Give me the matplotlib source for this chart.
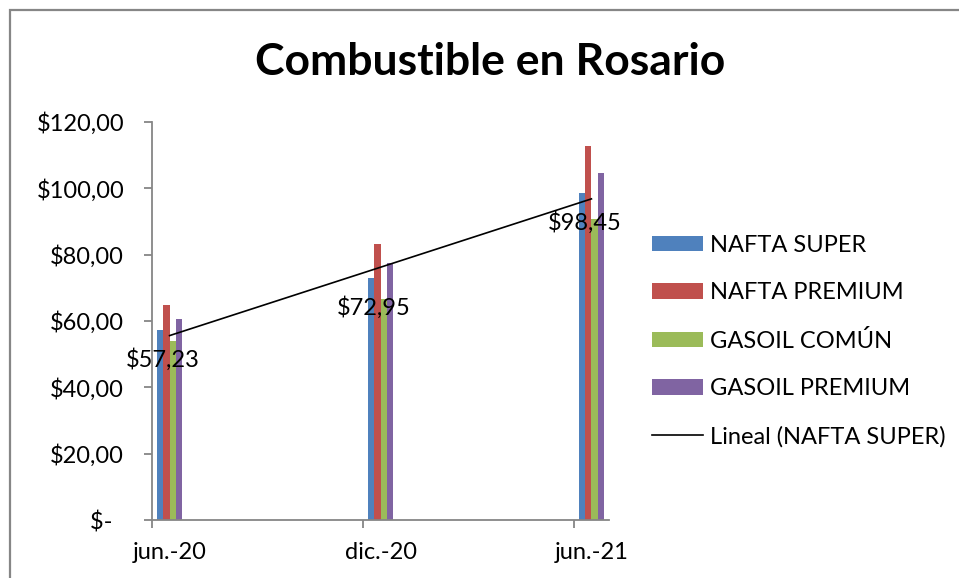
import numpy as np
import matplotlib
matplotlib.use("Agg")
import matplotlib.pyplot as plt
from matplotlib.patches import Rectangle, Patch
from matplotlib.lines import Line2D

# data
periods = ["jun.-20", "dic.-20", "jun.-21"]
months = [0, 6, 12]  # date axis, in months from jun.-20
series_names = ["NAFTA SUPER", "NAFTA PREMIUM", "GASOIL COMÚN", "GASOIL PREMIUM"]
nafta_super = [57.23, 72.95, 98.45]
nafta_premium = [64.8, 83.3, 112.7]
gasoil_comun = [53.9, 66.6, 90.7]
gasoil_premium = [60.6, 77.6, 104.6]
y_ticks = [0, 20, 40, 60, 80, 100, 120]
y_labels = ["$-  ", "$20,00", "$40,00", "$60,00", "$80,00", "$100,00", "$120,00"]

colors = ["#4F81BD", "#C0504D", "#9BBB59", "#8064A2"]
font = "Lato"
fs = 17
gray = "#868686"

plt.rcParams["font.family"] = [font, "DejaVu Sans"]

fig = plt.figure(figsize=(9.59, 5.78), dpi=100)
ax = fig.add_axes([152 / 959, 1 - 520 / 578, (609 - 152) / 959, (520 - 122) / 578])

x = np.array(months, dtype=float)
w = 0.18
all_series = [nafta_super, nafta_premium, gasoil_comun, gasoil_premium]
for i, (vals, c) in enumerate(zip(all_series, colors)):
    ax.bar(x + (i - 1.5) * w, vals, width=w, color=c, linewidth=0)

# linear trend of NAFTA SUPER
k, b = np.polyfit(x, nafta_super, 1)
xt = np.array([x[0], x[-1]])
ax.plot(xt, k * xt + b, color="black", lw=1.2)

for xi, v in zip(x, nafta_super):
    ax.annotate(("$%.2f" % v).replace(".", ","), (xi - 1.5 * w, v),
                xytext=(2, -21), textcoords="offset points",
                ha="center", va="center", fontsize=fs, color="black")

ax.set_xlim(-0.5, 12.5)
ax.set_ylim(0, 120)
ax.set_yticks(y_ticks)
ax.set_yticklabels(y_labels, fontsize=fs)
ax.set_xticks([m - 0.5 for m in months])
ax.set_xticklabels([])
ax.set_xticks(months, minor=True)
ax.set_xticklabels(periods, minor=True, fontsize=fs)
ax.tick_params(axis="x", which="minor", length=0, pad=16)
ax.tick_params(axis="both", which="major", length=6, width=1.3, color=gray, direction="out")
ax.tick_params(axis="y", pad=14)
for s in ["top", "right"]:
    ax.spines[s].set_visible(False)
for s in ["left", "bottom"]:
    ax.spines[s].set_color(gray)
    ax.spines[s].set_linewidth(1.3)

handles = [Patch(facecolor=c, edgecolor="none") for c in colors]
handles.append(Line2D([0], [0], color="black", lw=1.2))
labels = series_names + ["Lineal (NAFTA SUPER)"]
fig.legend(handles, labels, loc="center left", bbox_to_anchor=(652 / 959, 1 - 341 / 578),
           frameon=False, fontsize=fs, handlelength=2.15, handleheight=0.65,
           handletextpad=0.3, labelspacing=1.12, borderpad=0, borderaxespad=0)

fig.text(490 / 959, 1 - 62 / 578, "Combustible en Rosario", ha="center", va="center",
         fontsize=32, fontweight="bold")

fig.patches.append(Rectangle((10 / 959, -0.1), 1.2, 1.1 - 10 / 578, transform=fig.transFigure,
                             fill=False, edgecolor=gray, lw=1.6))

fig.savefig("out.png", dpi=100)
